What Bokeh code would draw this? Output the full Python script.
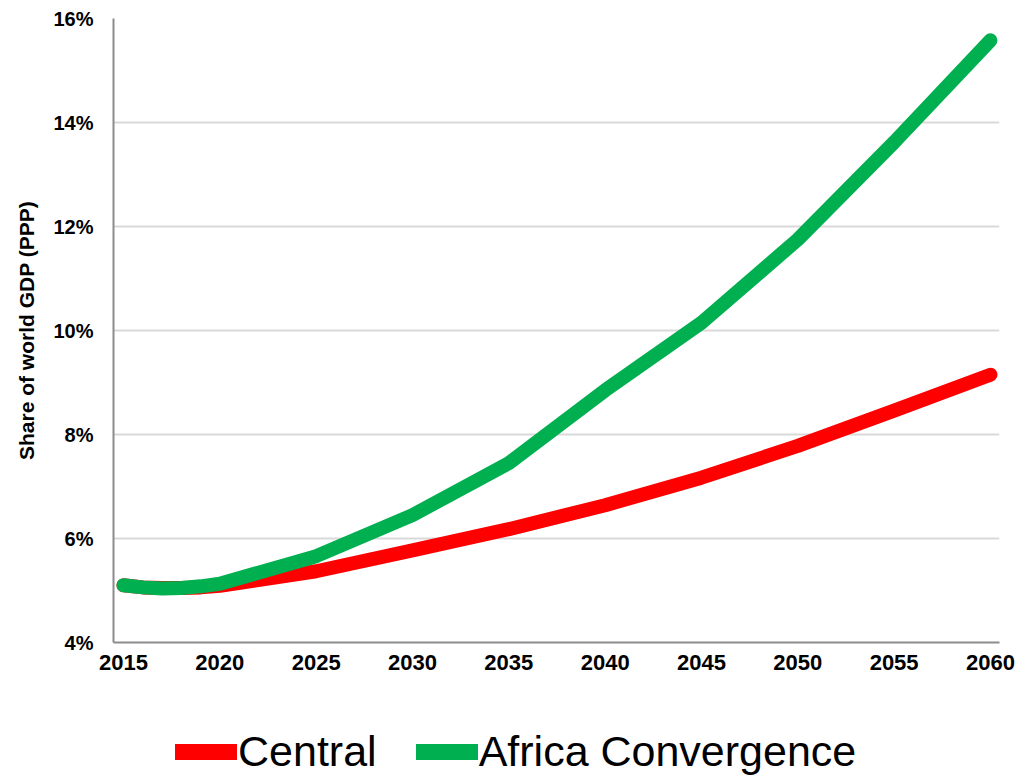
from bokeh.plotting import figure
from bokeh.layouts import column
from bokeh.models import Legend, LegendItem, FixedTicker, PrintfTickFormatter, Range1d
from bokeh.embed import file_html
from bokeh.resources import INLINE

years = [2015, 2016, 2017, 2018, 2019, 2020, 2025, 2030, 2035, 2040, 2045, 2050, 2055, 2060]
central = [5.10, 5.06, 5.05, 5.05, 5.06, 5.09, 5.37, 5.77, 6.18, 6.64, 7.17, 7.78, 8.46, 9.15]
africa = [5.10, 5.06, 5.04, 5.05, 5.08, 5.13, 5.66, 6.45, 7.45, 8.85, 10.15, 11.75, 13.62, 15.58]
x_ticks = [2015, 2020, 2025, 2030, 2035, 2040, 2045, 2050, 2055, 2060]
y_ticks = [4, 6, 8, 10, 12, 14, 16]
series_names = ["Central", "Africa Convergence"]
series_colors = ["#FF0000", "#00B050"]
y_title = "Share of world GDP (PPP)"

FONT = "Liberation Sans"
LW = 14

p = figure(width=1016, height=682, output_backend="svg", toolbar_location=None,
           x_range=Range1d(2014.48, 2060.47), y_range=Range1d(4, 16),
           min_border_left=113, min_border_right=17, min_border_top=18, min_border_bottom=40)
p.outline_line_color = None
p.background_fill_color = "white"
p.border_fill_color = "white"

p.line(years, central, line_color=series_colors[0], line_width=LW, line_cap="round", line_join="round")
p.line(years, africa, line_color=series_colors[1], line_width=LW, line_cap="round", line_join="round")

p.xgrid.visible = False
p.ygrid.grid_line_color = "#d9d9d9"
p.ygrid.grid_line_width = 2
p.ygrid.ticker = FixedTicker(ticks=y_ticks)

for ax in (p.xaxis[0], p.yaxis[0]):
    ax.axis_line_color = "#8c8c8c"
    ax.axis_line_width = 2
    ax.major_tick_line_color = None
    ax.minor_tick_line_color = None
    ax.major_tick_out = 0
    ax.major_tick_in = 0
    ax.major_label_text_font = FONT
    ax.major_label_text_font_style = "bold"
    ax.major_label_text_color = "black"

p.xaxis.major_label_text_font_size = "22px"
p.yaxis.major_label_text_font_size = "20px"
p.xaxis.ticker = FixedTicker(ticks=x_ticks)
p.xaxis.major_label_standoff = 12
p.yaxis.ticker = FixedTicker(ticks=y_ticks)
p.yaxis.formatter = PrintfTickFormatter(format="%d%%")
p.yaxis.major_label_standoff = 20
p.yaxis.axis_label = y_title
p.yaxis.axis_label_text_font = FONT
p.yaxis.axis_label_text_font_style = "bold"
p.yaxis.axis_label_text_font_size = "21px"
p.yaxis.axis_label_text_color = "black"
p.yaxis.axis_label_standoff = 12

# legend strip below the chart (its lines lie outside its own visible range)
lg = figure(width=1016, height=94, output_backend="svg", toolbar_location=None,
            x_axis_type=None, y_axis_type=None, x_range=Range1d(0, 1), y_range=Range1d(0, 1),
            min_border=0)
lg.outline_line_color = None
lg.background_fill_color = "white"
lg.border_fill_color = "white"
lr1 = lg.line(years, central, line_color=series_colors[0], line_width=16, line_cap="round")
lr2 = lg.line(years, africa, line_color=series_colors[1], line_width=16, line_cap="round")

legend = Legend(items=[LegendItem(label=series_names[0], renderers=[lr1]),
                       LegendItem(label=series_names[1], renderers=[lr2])],
                orientation="horizontal", location=(62, 0),
                label_text_font=FONT, label_text_font_size="43px", label_text_color="black",
                glyph_width=62, glyph_height=17, label_standoff=1, spacing=39,
                padding=0, margin=0, border_line_color=None, background_fill_alpha=0,
                label_height=44)
lg.add_layout(legend)

layout = column(p, lg, spacing=0)
open("out.html", "w").write(file_html(layout, INLINE))
